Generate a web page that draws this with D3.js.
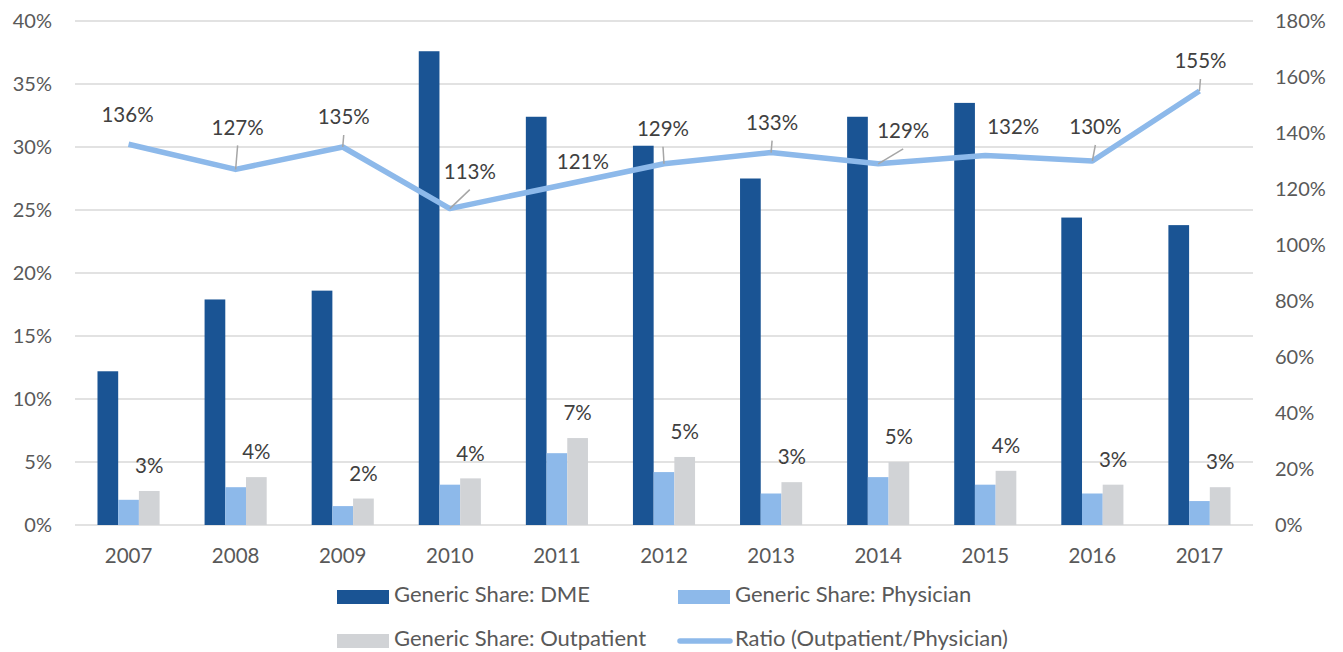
<!DOCTYPE html>
<html><head><meta charset="utf-8">
<script src="https://cdn.jsdelivr.net/npm/d3@7"></script>
<style>
html,body{margin:0;padding:0;background:#fff;}
svg{display:block;font-family:Lato,"Open Sans",sans-serif;}
</style></head>
<body>
<svg id="chart" width="1343" height="652"></svg>
<script>
const years = ["2007","2008","2009","2010","2011","2012","2013","2014","2015","2016","2017"];
const dme = [12.2, 17.9, 18.6, 37.6, 32.4, 30.1, 27.5, 32.4, 33.5, 24.4, 23.8];
const physician = [2.0, 3.0, 1.5, 3.2, 5.7, 4.2, 2.5, 3.8, 3.2, 2.5, 1.9];
const outpatient = [2.7, 3.8, 2.1, 3.7, 6.9, 5.4, 3.4, 5.0, 4.3, 3.2, 3.0];
const outpatientLabels = ["3%","4%","2%","4%","7%","5%","3%","5%","4%","3%","3%"];
const ratio = [136, 127, 135, 113, 121, 129, 133, 129, 132, 130, 155];
const leftTicks = [0,5,10,15,20,25,30,35,40];
const rightTicks = [0,20,40,60,80,100,120,140,160,180];
const seriesNames = ["Generic Share: DME","Generic Share: Physician","Generic Share: Outpatient","Ratio (Outpatient/Physician)"];

// label placement for ratio annotations (layout, not data)
const ratioLabelOffset = [[-1,-29],[2,-42],[1,-30],[20,-37],[26,-24],[-1,-35],[1,-30],[25,-33],[28,-29],[3,-34],[1,-30]];
const ratioLeader = [false,true,true,true,false,true,true,true,false,true,true];

const colors = {dme:"#1a5494", phys:"#8db9ea", out:"#d1d3d6", line:"#8db9ea", grid:"#d9d9d9", text:"#595959", label:"#404040"};
const svg = d3.select("#chart");
const L = 75, R = 1253, T = 21, B = 525;

const x = d3.scaleBand().domain(years).range([L, R]).paddingInner(0).paddingOuter(0);
const yL = d3.scaleLinear().domain([0,40]).range([B, T]);
const yR = d3.scaleLinear().domain([0,180]).range([B, T]);
const groupW = x.bandwidth() * 0.58;
const sub = d3.scaleBand().domain(["dme","phys","out"]).range([0, groupW]);

// gridlines
svg.append("g").selectAll("line").data(leftTicks).join("line")
  .attr("x1", L).attr("x2", R)
  .attr("y1", d => yL(d)).attr("y2", d => yL(d))
  .attr("stroke", colors.grid).attr("stroke-width", 1.5);

// left axis
const leftAxis = d3.axisLeft(yL).tickValues(leftTicks).tickFormat(d => d + "%").tickSize(0).tickPadding(0);
const gL = svg.append("g").attr("transform", `translate(${L-23},0)`).call(leftAxis);
gL.select(".domain").remove();
gL.selectAll("text").attr("fill", colors.text).style("font-size","20px").style("font-family","Lato, sans-serif");

// right axis
const rightAxis = d3.axisRight(yR).tickValues(rightTicks).tickFormat(d => d + "%").tickSize(0).tickPadding(0);
const gR = svg.append("g").attr("transform", `translate(${R+22},0)`).call(rightAxis);
gR.select(".domain").remove();
gR.selectAll("text").attr("fill", colors.text).style("font-size","20px").style("font-family","Lato, sans-serif");

// bottom axis
const bottomAxis = d3.axisBottom(x).tickSize(0).tickPadding(0);
const gB = svg.append("g").attr("transform", `translate(0,${B+23})`).call(bottomAxis);
gB.select(".domain").remove();
gB.selectAll("text").attr("fill", colors.text).style("font-size","20.5px").style("font-family","Lato, sans-serif");

// bars
const groups = svg.append("g").selectAll("g").data(years).join("g")
  .attr("transform", d => `translate(${x(d) + (x.bandwidth()-groupW)/2},0)`);
const series = [["dme", dme, colors.dme], ["phys", physician, colors.phys], ["out", outpatient, colors.out]];
series.forEach(([key, vals, col]) => {
  groups.append("rect")
    .attr("x", sub(key)).attr("width", sub.bandwidth())
    .attr("y", (d,i) => yL(vals[i])).attr("height", (d,i) => B - yL(vals[i]))
    .attr("fill", col);
});

// outpatient labels
groups.append("text")
  .attr("x", sub("out") + sub.bandwidth()/2)
  .attr("y", (d,i) => yL(outpatient[i]) - 25)
  .attr("dy", "0.35em")
  .attr("text-anchor","middle")
  .attr("fill", colors.label).style("font-size","20.5px")
  .text((d,i) => outpatientLabels[i]);

// ratio line
const cx = d => x(d) + x.bandwidth()/2;
const line = d3.line().x((d,i) => cx(years[i])).y(d => yR(d));
svg.append("path").datum(ratio).attr("d", line)
  .attr("fill","none").attr("stroke", colors.line).attr("stroke-width", 5.5).attr("stroke-linejoin","round");

// leaders + labels
const ann = svg.append("g");
ratio.forEach((v,i) => {
  const px = cx(years[i]), py = yR(v);
  const lx = px + ratioLabelOffset[i][0], ly = py + ratioLabelOffset[i][1];
  if (ratioLeader[i]) {
    ann.append("line").attr("x1", lx).attr("y1", ly + 18).attr("x2", px).attr("y2", py)
      .attr("stroke", "#a6a6a6").attr("stroke-width", 1.5);
  }
  ann.append("text").attr("x", lx).attr("y", ly).attr("dy","0.35em")
    .attr("text-anchor","middle").attr("fill", colors.label).style("font-size","20.5px")
    .text(v + "%");
});

// legend
const leg = svg.append("g").style("font-size","22px");
const legItems = [
  {name: seriesNames[0], type:"rect", col: colors.dme, x: 337, y: 597},
  {name: seriesNames[1], type:"rect", col: colors.phys, x: 678, y: 597},
  {name: seriesNames[2], type:"rect", col: colors.out, x: 337, y: 641},
  {name: seriesNames[3], type:"line", col: colors.line, x: 678, y: 641}
];
legItems.forEach(it => {
  if (it.type === "rect") {
    leg.append("rect").attr("x", it.x).attr("y", it.y - 7).attr("width", 52).attr("height", 14).attr("fill", it.col);
  } else {
    leg.append("line").attr("x1", it.x + 2).attr("x2", it.x + 52).attr("y1", it.y).attr("y2", it.y)
      .attr("stroke", it.col).attr("stroke-width", 5.5).attr("stroke-linecap","round");
  }
  leg.append("text").attr("x", it.x + 57).attr("y", it.y + 4.5)
    .attr("fill", colors.text).text(it.name);
});
</script>
</body></html>
